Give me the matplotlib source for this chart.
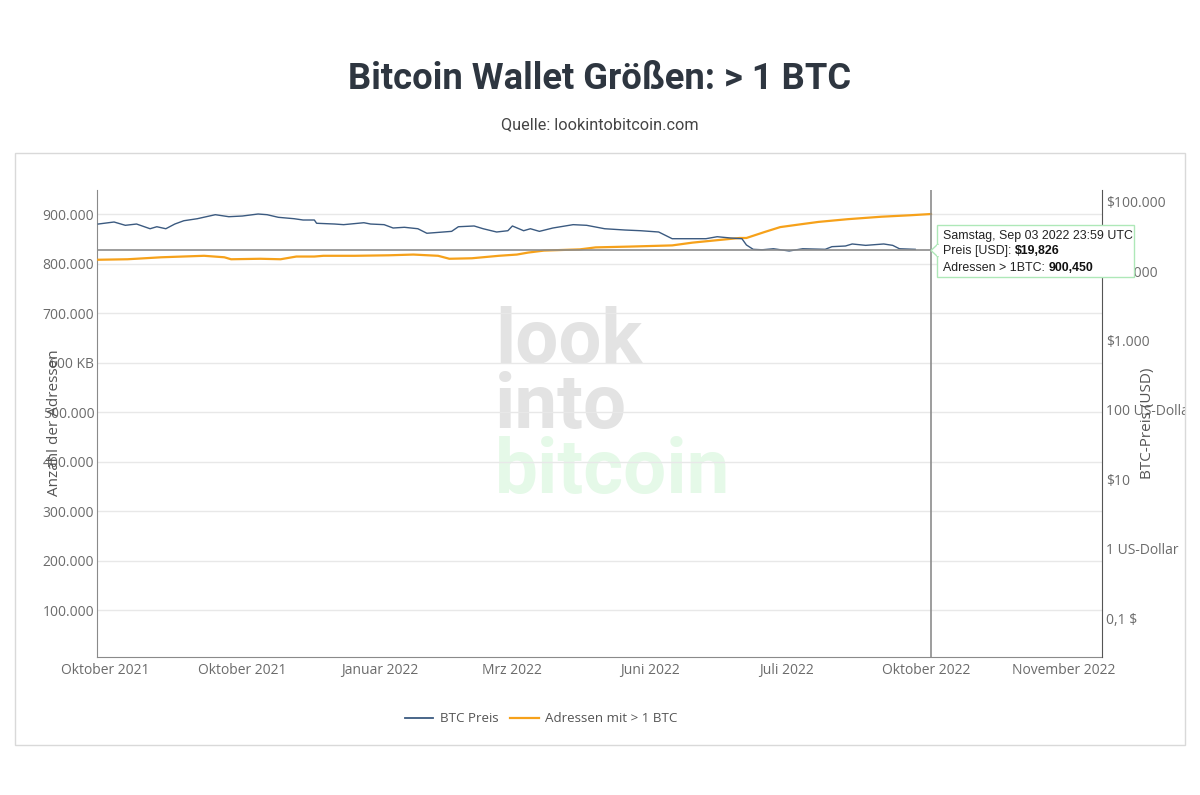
import matplotlib
matplotlib.use("Agg")
import matplotlib.pyplot as plt
from matplotlib.patches import Rectangle, Polygon
from matplotlib.text import Annotation
from matplotlib.transforms import Bbox, TransformedBbox
import matplotlib.ticker as mticker
import pandas as pd

# ---------------- data ----------------
btc_dates = ["2021-08-29", "2021-09-05", "2021-09-10", "2021-09-15", "2021-09-21", "2021-09-24",
             "2021-09-28", "2021-10-02", "2021-10-06", "2021-10-12", "2021-10-20", "2021-10-26",
             "2021-11-01", "2021-11-08", "2021-11-12", "2021-11-17", "2021-11-24", "2021-11-28",
             "2021-12-03", "2021-12-04", "2021-12-12", "2021-12-16", "2021-12-25", "2021-12-28",
             "2022-01-03", "2022-01-07", "2022-01-12", "2022-01-18", "2022-01-22", "2022-02-02",
             "2022-02-05", "2022-02-12", "2022-02-16", "2022-02-22", "2022-02-27", "2022-03-01",
             "2022-03-06", "2022-03-09", "2022-03-13", "2022-03-19", "2022-03-28", "2022-04-03",
             "2022-04-11", "2022-04-20", "2022-04-27", "2022-05-05", "2022-05-11", "2022-05-18",
             "2022-05-26", "2022-05-31", "2022-06-06", "2022-06-11", "2022-06-13", "2022-06-16",
             "2022-06-20", "2022-06-25", "2022-07-02", "2022-07-08", "2022-07-18", "2022-07-21",
             "2022-07-27", "2022-07-30", "2022-08-05", "2022-08-13", "2022-08-17", "2022-08-20",
             "2022-08-27"]
btc_price = [47700, 51000, 45700, 47700, 40800, 43600,
             40800, 47700, 53200, 56900, 65000, 60800,
             62200, 66500, 65000, 59600, 56900, 54500,
             54500, 48900, 47700, 46700, 49800, 47700,
             46700, 41800, 42800, 40800, 35100, 37400,
             43600, 44700, 40800, 36600, 38200, 44700,
             38200, 40800, 37400, 41800, 46700, 45700,
             40800, 39100, 38200, 36600, 29300, 29300,
             29300, 31300, 30000, 29300, 23800, 20600,
             20300, 21000, 19500, 21000, 20600, 22500,
             23000, 24600, 23500, 24600, 23500, 21000,
             20600]

addr_dates = ["2021-08-29", "2021-09-11", "2021-09-26", "2021-10-15", "2021-10-24", "2021-10-27",
              "2021-11-09", "2021-11-18", "2021-11-25", "2021-12-03", "2021-12-07", "2021-12-21",
              "2022-01-05", "2022-01-16", "2022-01-27", "2022-02-01", "2022-02-11", "2022-02-23",
              "2022-03-03", "2022-03-08", "2022-03-15", "2022-03-31", "2022-04-07", "2022-04-22",
              "2022-05-11", "2022-05-20", "2022-06-01", "2022-06-10", "2022-06-13", "2022-06-21",
              "2022-06-28", "2022-07-06", "2022-07-15", "2022-07-28", "2022-08-12", "2022-08-25",
              "2022-09-03"]
addr_count = [808000, 809000, 813000, 816000, 813000, 809000,
              810000, 809000, 814500, 814500, 816000, 816000,
              817000, 818500, 816000, 810000, 811000, 816000,
              818500, 822500, 826500, 829000, 833000, 834600,
              837000, 842600, 848000, 852000, 852000, 864000,
              874000, 879000, 884500, 890000, 895000, 898000,
              900450]

tick_dates = ["2021-09-01", "2021-11-01", "2022-01-01", "2022-03-01",
              "2022-05-01", "2022-07-01", "2022-09-01", "2022-11-01"]
tick_labels = ["Oktober 2021", "Oktober 2021", "Januar 2022", "Mrz 2022",
               "Juni 2022", "Juli 2022", "Oktober 2022", "November 2022"]

left_ticks = [100000, 200000, 300000, 400000, 500000, 600000, 700000, 800000, 900000]
left_labels = ["100.000", "200.000", "300.000", "400.000", "500.000", "600 KB",
               "700.000", "800.000", "900.000"]
right_ticks = [0.1, 1, 10, 100, 1000, 10000, 100000]
right_labels = ["0,1 $", "1 US-Dollar", "$10", "100 US-Dollar", "$1.000", "$10.000", "$100.000"]

hover_date = "2022-09-03"
hover_label = "Samstag, Sep 03 2022 23:59 UTC"
hover_price = 19826
hover_addr = 900450

# ---------------- figure ----------------
W, H = 1200, 795
fig = plt.figure(figsize=(W / 100, H / 100), dpi=100)
fig.patch.set_facecolor("white")


def fx(px):
    return px / W


def fy(py):
    return 1 - py / H


# outer frame
fig.patches.append(Rectangle((fx(15), fy(745)), fx(1185) - fx(15), fy(153) - fy(745),
                             transform=fig.transFigure, fill=False, edgecolor="#d9d9d9",
                             linewidth=1.0, zorder=0))

fig.text(0.5, fy(79), "Bitcoin Wallet Größen: > 1 BTC", ha="center", va="center",
         fontsize=26.2, fontweight="bold", family="Roboto", color="#2e3640")
fig.text(0.5, fy(125), "Quelle: lookintobitcoin.com", ha="center", va="center",
         fontsize=11.7, family="Roboto", color="#444444")

# watermark (behind axes)
wm_font = dict(family="Roboto", fontweight="bold", fontsize=55, ha="left", va="baseline",
               zorder=-1)
fig.text(fx(495), fy(363), "look", color="#e3e3e3", **wm_font)
fig.text(fx(495), fy(428), "into", color="#e3e3e3", **wm_font)
fig.text(fx(495), fy(493), "bitcoin", color="#e5f9e8", **wm_font)

ax = fig.add_axes([fx(97), fy(657), fx(1102) - fx(97), fy(190) - fy(657)])
ax.patch.set_alpha(0)
ax2 = ax.twinx()
ax2.patch.set_alpha(0)

bd = pd.to_datetime(btc_dates, format="ISO8601")
ad = pd.to_datetime(addr_dates, format="ISO8601")
hd = pd.Timestamp(hover_date)
x0 = pd.Timestamp("2021-08-28 10:00")
x1 = pd.Timestamp("2022-11-18 00:00")

ax.plot(ad, addr_count, color="#f6a11a", linewidth=1.6, zorder=3)
ax2.plot(bd, btc_price, color="#3b5a80", linewidth=1.0, zorder=3)

ax.set_xlim(x0, x1)
ax.set_ylim(5000, 949000)
ax2.set_yscale("log")
ax2.set_ylim(0.0275, 147500)

ax.set_yticks(left_ticks)
ax.set_yticklabels(left_labels)
ax.grid(axis="y", color="#e8e8e8", linewidth=1.0)
ax.set_axisbelow(True)
ax2.set_yticks(right_ticks)
ax2.set_yticklabels(right_labels)
ax2.yaxis.set_minor_locator(mticker.NullLocator())

ax.set_xticks(pd.to_datetime(tick_dates))
ax.set_xticklabels(tick_labels)

for lab in ax.get_xticklabels() + ax.get_yticklabels() + ax2.get_yticklabels():
    lab.set_fontfamily("Open Sans")
    lab.set_fontsize(10)
    lab.set_color("#6b6b6b")
ax.tick_params(axis="y", length=0, pad=2)
ax.tick_params(axis="x", length=0, pad=4)
ax2.tick_params(axis="y", length=0, pad=3)

clipbox = TransformedBbox(Bbox.from_extents(0, 0, fx(1185), 1), fig.transFigure)
for lab in ax2.get_yticklabels():
    lab.set_clip_box(clipbox)
    lab.set_clip_on(True)

ax.spines["top"].set_visible(False)
ax2.spines["top"].set_visible(False)
ax.spines["left"].set_color("#8a8a8a")
ax.spines["bottom"].set_color("#8a8a8a")
ax.spines["right"].set_visible(False)
ax2.spines["left"].set_visible(False)
ax2.spines["bottom"].set_visible(False)
ax2.spines["right"].set_color("#555555")

fig.text(fx(55), fy(423), "Anzahl der Adressen", rotation=90, ha="center", va="center",
         family="Open Sans", fontsize=11, color="#555555", zorder=5)
fig.text(fx(1148), fy(423), "BTC-Preis (USD)", rotation=90, ha="center", va="center",
         family="Open Sans", fontsize=11, color="#555555", zorder=5)

# hover spike lines
ax.axvline(hd, color="#8c8c8c", linewidth=1.2, zorder=4)
ax2.plot([x0, hd], [hover_price, hover_price], color="#8c8c8c", linewidth=1.2, zorder=4)

# legend
fig.lines.append(plt.Line2D([fx(405), fx(433)], [fy(718), fy(718)], transform=fig.transFigure,
                            color="#3b5a80", linewidth=1.3))
fig.text(fx(440), fy(718), "BTC Preis", ha="left", va="center", family="Open Sans",
         fontsize=9.6, color="#555555")
fig.lines.append(plt.Line2D([fx(510), fx(539)], [fy(718), fy(718)], transform=fig.transFigure,
                            color="#f6a11a", linewidth=1.6))
fig.text(fx(545), fy(718), "Adressen mit > 1 BTC", ha="left", va="center", family="Open Sans",
         fontsize=9.6, color="#555555")

# tooltip
bx0, by0, bx1, by1 = 937, 225, 1134, 277
fig.patches.append(Rectangle((fx(bx0), fy(by1)), fx(bx1) - fx(bx0), fy(by0) - fy(by1),
                             transform=fig.transFigure, facecolor="white",
                             edgecolor="#aee8b8", linewidth=1.0, zorder=10))
fig.patches.append(Polygon([(fx(931), fy(250.5)), (fx(938), fy(244)), (fx(938), fy(257))],
                           closed=True, transform=fig.transFigure, facecolor="white",
                           edgecolor="#aee8b8", linewidth=1.0, zorder=10.5))
fig.patches.append(Rectangle((fx(937.3), fy(256)), fx(2.2), fy(245) - fy(256),
                             transform=fig.transFigure, facecolor="white",
                             edgecolor="none", zorder=10.6))

tt = dict(family="Liberation Sans", fontsize=8.9, color="#222222", zorder=11, va="center",
          ha="left")
fig.text(fx(943), fy(236), hover_label, **tt)
t1 = fig.text(fx(943), fy(251), "Preis [USD]: ", **tt)
t2 = fig.text(fx(943), fy(268), "Adressen > 1BTC: ", **tt)
for t, s in [(t1, f"${hover_price:,}"), (t2, f"{hover_addr:,}")]:
    a = Annotation(s, xy=(1, 0.5), xycoords=t, va="center", ha="left",
                   family="Liberation Sans", fontsize=8.9, fontweight="bold",
                   color="#111111", annotation_clip=False)
    a.set_zorder(11)
    fig.add_artist(a)

fig.savefig("out.png", dpi=100, facecolor="white")
